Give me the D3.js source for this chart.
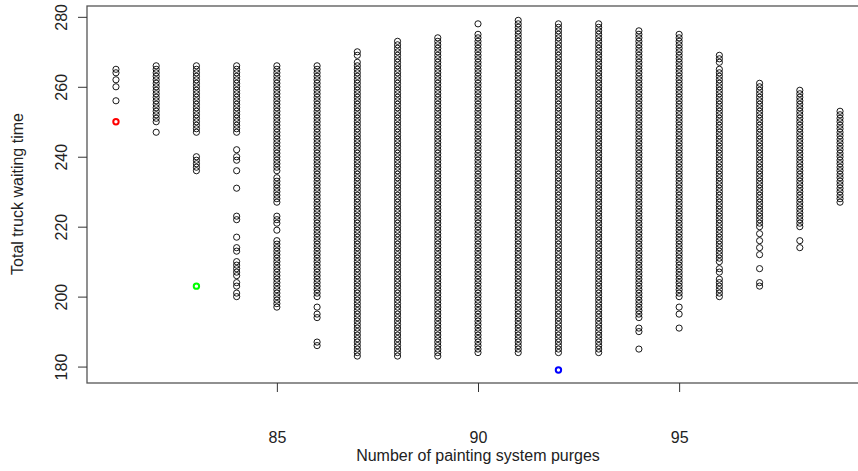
<!DOCTYPE html>
<html>
<head>
<meta charset="utf-8">
<script src="https://cdn.jsdelivr.net/npm/d3@7"></script>
<style>
  body { margin: 0; background: #fff; }
  svg { display: block; }
  text { font-family: "Liberation Sans", Arial, sans-serif; fill: #222; }
</style>
</head>
<body>
<div id="chart"></div>
<script>
/* Number of painting system purges (x) */
var purges = [81, 82, 83, 84, 85, 86, 87, 88, 89, 90, 91, 92, 93, 94, 95, 96, 97, 98, 99];

var waitRuns = [
    [[265, 265], [264, 264], [262, 262], [260, 260], [256, 256]],
    [[250, 266], [247, 247]],
    [[247, 266], [236, 240]],
    [[247, 266], [242, 242], [240, 240], [239, 239], [236, 236], [231, 231], [222, 223], [217, 217], [213, 214], [206, 210], [203, 204], [200, 201]],
    [[236, 266], [234, 234], [227, 233], [221, 223], [219, 219], [197, 216]],
    [[200, 266], [197, 197], [194, 195], [186, 187]],
    [[269, 270], [183, 267]],
    [[183, 273]],
    [[183, 274]],
    [[278, 278], [184, 275]],
    [[184, 279]],
    [[184, 278]],
    [[184, 278]],
    [[194, 276], [190, 191], [185, 185]],
    [[200, 275], [197, 197], [195, 195], [191, 191]],
    [[267, 269], [210, 265], [207, 208], [200, 205]],
    [[220, 261], [218, 218], [216, 216], [214, 214], [212, 212], [208, 208], [203, 204]],
    [[220, 259], [216, 216], [214, 214]],
    [[227, 253]]
];

/* Highlighted solutions */
var markX = [81, 83, 92];
var markY = [250, 203, 179];
var markColor = ["#ff0000", "#00ff00", "#0000ff"];

var xTicks = [85, 90, 95];
var yTicks = [180, 200, 220, 240, 260, 280];

var width = 858, height = 471;
var plot = {left: 87, top: 6, right: 869, bottom: 383};

var svg = d3.select("#chart").append("svg")
    .attr("width", width)
    .attr("height", height);

var x = d3.scaleLinear().domain([80.28, 99.72]).range([plot.left, plot.right]);
var y = d3.scaleLinear().domain([175.3, 283.1]).range([plot.bottom, plot.top]);

// expand the runs into points
var points = [];
purges.forEach(function(p, i) {
    waitRuns[i].forEach(function(r) {
        for (var v = r[0]; v <= r[1]; v++) points.push({x: p, y: v});
    });
});

svg.append("g")
    .selectAll("circle")
    .data(points)
    .enter().append("circle")
    .attr("cx", function(d) { return x(d.x); })
    .attr("cy", function(d) { return y(d.y); })
    .attr("r", 3.1)
    .attr("fill", "none")
    .attr("stroke", "#000")
    .attr("stroke-width", 0.9);

svg.append("g")
    .selectAll("circle")
    .data(markX)
    .enter().append("circle")
    .attr("cx", function(d) { return x(d); })
    .attr("cy", function(d, i) { return y(markY[i]); })
    .attr("r", 2.7)
    .attr("fill", "none")
    .attr("stroke", function(d, i) { return markColor[i]; })
    .attr("stroke-width", 2);

// plot box
svg.append("rect")
    .attr("x", plot.left)
    .attr("y", plot.top)
    .attr("width", plot.right - plot.left)
    .attr("height", plot.bottom - plot.top)
    .attr("fill", "none")
    .attr("stroke", "#555")
    .attr("stroke-width", 1.3);

// x axis
var xAxis = d3.axisBottom(x).tickValues(xTicks).tickSize(9);
var gx = svg.append("g")
    .attr("transform", "translate(0," + plot.bottom + ")")
    .call(xAxis);
gx.select(".domain").remove();
gx.selectAll("line").attr("stroke", "#333");
gx.selectAll("text").attr("font-size", 16).attr("dy", 0).attr("y", 60);

// y axis
var yAxis = d3.axisLeft(y).tickValues(yTicks).tickSize(9);
var gy = svg.append("g")
    .attr("transform", "translate(" + plot.left + ",0)")
    .call(yAxis);
gy.select(".domain").remove();
gy.selectAll("line").attr("stroke", "#333");
gy.selectAll("text")
    .attr("font-size", 16)
    .attr("x", null).attr("dy", null)
    .attr("text-anchor", "middle")
    .attr("transform", "translate(-20,0) rotate(-90)");

// axis titles
svg.append("text")
    .attr("x", 478)
    .attr("y", 461)
    .attr("text-anchor", "middle")
    .attr("font-size", 16)
    .text("Number of painting system purges");

svg.append("text")
    .attr("transform", "translate(23,194) rotate(-90)")
    .attr("text-anchor", "middle")
    .attr("font-size", 16)
    .text("Total truck waiting time");
</script>
</body>
</html>
